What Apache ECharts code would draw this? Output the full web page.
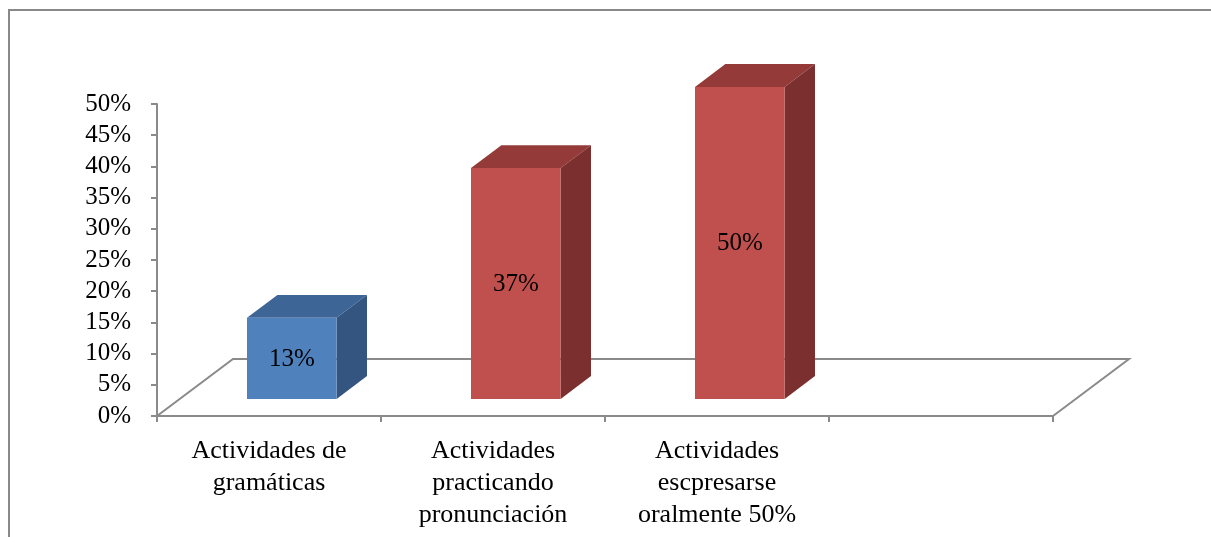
<!DOCTYPE html>
<html>
<head>
<meta charset="utf-8">
<script src="https://cdn.jsdelivr.net/npm/echarts@6/dist/echarts.min.js"></script>
<style>
  html, body { margin: 0; padding: 0; background: #fff; }
  #main { width: 1211px; height: 537px; }
</style>
</head>
<body>
<div id="main"></div>
<script>
// data
var categories = ['Actividades de\ngramáticas', 'Actividades\npracticando\npronunciación', 'Actividades\nescpresarse\noralmente 50%', ''];
var values = [13, 37, 50];
var yTicks = { min: 0, max: 50, step: 5 };

// 3d look
var DEPTH_X = 76, DEPTH_Y = -57;   // floor depth in px
var faceColors = [
    { front: '#4f81bd', top: '#3d6696', side: '#34557f' },
    { front: '#c0504d', top: '#943a38', side: '#7b302f' },
    { front: '#c0504d', top: '#943a38', side: '#7b302f' }
];
var FONT = '"Liberation Serif", "Times New Roman", serif';
var LINE = '#8a8a8a';

var myChart = echarts.init(document.getElementById('main'));

var barData = values.map(function (v, i) { return [i, v]; });

option = {
    animation: false,
    backgroundColor: '#fff',
    grid: { left: 157, right: 158, top: 104, bottom: 121 },
    graphic: [{
        type: 'rect',
        shape: { x: 9, y: 10, width: 1400, height: 700 },
        style: { fill: null, stroke: '#888', lineWidth: 2 },
        silent: true
    }],
    xAxis: {
        type: 'category',
        data: categories,
        boundaryGap: true,
        axisLine: { lineStyle: { color: LINE, width: 2 } },
        axisTick: { show: true, length: 6, alignWithLabel: false, lineStyle: { color: LINE, width: 2 } },
        axisLabel: {
            interval: 0, margin: 19,
            fontFamily: FONT, fontSize: 26, lineHeight: 32, color: '#000'
        },
        splitLine: { show: false }
    },
    yAxis: {
        type: 'value',
        min: yTicks.min, max: yTicks.max, interval: yTicks.step,
        axisLine: { show: true, lineStyle: { color: LINE, width: 2 } },
        axisTick: { show: true, length: 6, lineStyle: { color: LINE, width: 2 } },
        axisLabel: {
            margin: 26, formatter: '{value}%',
            fontFamily: FONT, fontSize: 25, color: '#000'
        },
        splitLine: { show: false }
    },
    series: [
        {
            // floor of the 3d plot
            type: 'custom',
            z: 1,
            silent: true,
            data: [[0, 0]],
            renderItem: function (params, api) {
                var cs = params.coordSys;
                var x0 = cs.x, x1 = cs.x + cs.width, y0 = cs.y + cs.height;
                return {
                    type: 'polyline',
                    shape: { points: [
                        [x0, y0], [x0 + DEPTH_X, y0 + DEPTH_Y],
                        [x1 + DEPTH_X, y0 + DEPTH_Y], [x1, y0]
                    ] },
                    style: { stroke: LINE, lineWidth: 2, fill: null }
                };
            }
        },
        {
            type: 'custom',
            z: 3,
            data: barData,
            encode: { x: 0, y: 1 },
            renderItem: function (params, api) {
                var i = api.value(0), v = api.value(1);
                var base = api.coord([i, 0]);
                var top = api.coord([i, v]);
                var bw = api.size([1, 0])[0];
                var w = bw * 0.4;
                var ox = DEPTH_X * 0.3, oy = DEPTH_Y * 0.3;
                var dx = DEPTH_X * 0.4, dy = DEPTH_Y * 0.4;
                var l = base[0] + ox - w / 2, r = l + w;
                var b = base[1] + oy, t = top[1] + oy;
                var c = faceColors[i];
                return {
                    type: 'group',
                    children: [
                        { type: 'polygon', shape: { points: [[l, t], [r, t], [r + dx, t + dy], [l + dx, t + dy]] },
                          style: { fill: c.top } },
                        { type: 'polygon', shape: { points: [[r, t], [r, b], [r + dx, b + dy], [r + dx, t + dy]] },
                          style: { fill: c.side } },
                        { type: 'rect', shape: { x: l, y: t, width: w, height: b - t },
                          style: { fill: c.front } },
                        { type: 'text', x: (l + r) / 2, y: (t + b) / 2 + 1,
                          style: { text: v + '%', fill: '#000', font: '25px ' + FONT,
                                   align: 'center', verticalAlign: 'middle' } }
                    ]
                };
            }
        }
    ]
};

myChart.setOption(option);
</script>
</body>
</html>
